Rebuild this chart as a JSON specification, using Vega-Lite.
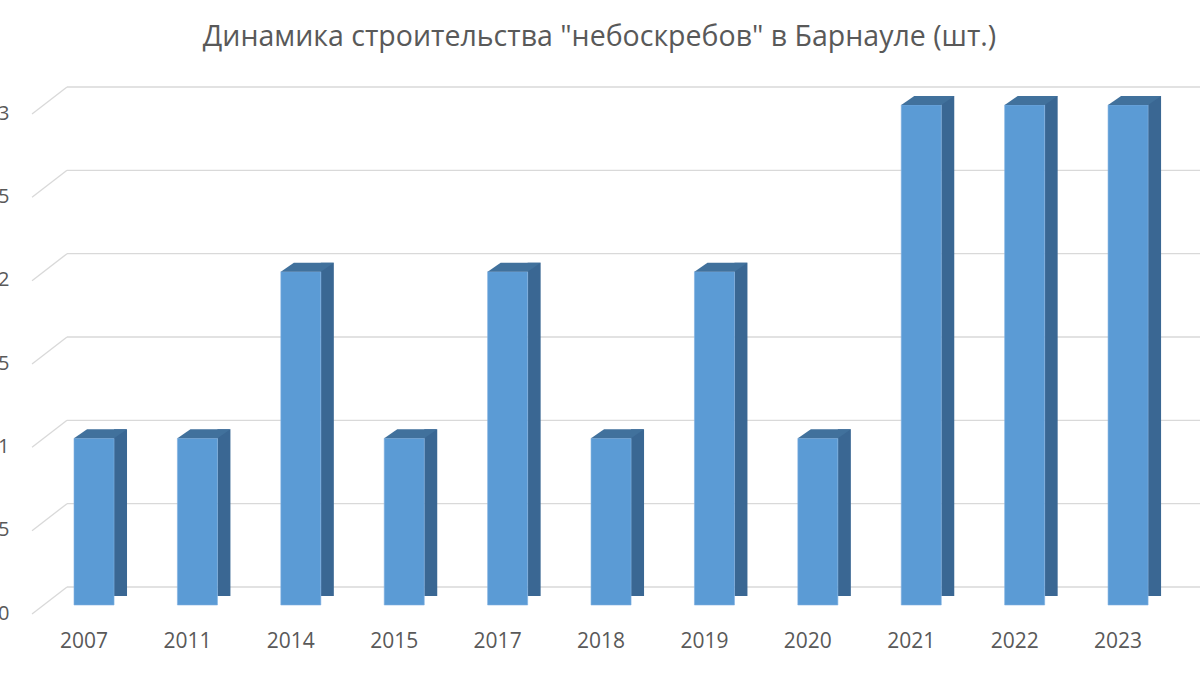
{
  "$schema": "https://vega.github.io/schema/vega-lite/v6.json",
  "autosize": {"type": "none"},
  "width": 1133,
  "height": 500,
  "padding": {"left": 67, "top": 105, "right": 0, "bottom": 70},
  "background": "white",
  "config": {"view": {"stroke": null}, "font": "Open Sans"},
  "title": {
    "text": "Динамика строительства \"небоскребов\" в Барнауле (шт.)",
    "fontSize": 28.5,
    "fontWeight": "normal",
    "color": "#595959",
    "font": "Open Sans",
    "anchor": "middle",
    "dx": -34,
    "offset": 33
  },
  "datasets": {
    "bars": [
      {"year": "2007", "count": 1},
      {"year": "2011", "count": 1},
      {"year": "2014", "count": 2},
      {"year": "2015", "count": 1},
      {"year": "2017", "count": 2},
      {"year": "2018", "count": 1},
      {"year": "2019", "count": 2},
      {"year": "2020", "count": 1},
      {"year": "2021", "count": 3},
      {"year": "2022", "count": 3},
      {"year": "2023", "count": 3}
    ],
    "grid": [
      {"v": 0}, {"v": 0.5}, {"v": 1}, {"v": 1.5}, {"v": 2}, {"v": 2.5}, {"v": 3}
    ]
  },
  "layer": [
    {
      "data": {"name": "grid"},
      "mark": {"type": "rule", "color": "#D9D9D9", "strokeWidth": 1.3, "yOffset": -18},
      "encoding": {
        "y": {"field": "v", "type": "quantitative", "scale": {"domain": [0, 3], "nice": false, "zero": true},
          "axis": {"title": null, "values": [0, 0.5, 1, 1.5, 2, 2.5, 3], "format": ".1~f", "domain": false, "ticks": false, "tickSize": 0, "grid": false,
            "labelExpr": "replace(datum.label, '.', ',')", "labelFontSize": 20, "labelColor": "#595959", "labelPadding": 58, "labelOffset": 8, "labelFont": "Open Sans"}}
      }
    },
    {
      "data": {"name": "grid"},
      "mark": {"type": "point", "shape": "M -1 0.771 L 1 -0.771", "size": 1225, "filled": false, "stroke": "#D9D9D9", "strokeWidth": 1.3, "opacity": 1, "xOffset": -44.5, "yOffset": -4.5},
      "encoding": {
        "x": {"datum": "2007", "type": "nominal"},
        "y": {"field": "v", "type": "quantitative"}
      }
    },
    {
      "data": {"name": "bars"},
      "mark": {"type": "bar", "color": "#3A6793", "width": 13, "xOffset": 26.5, "yOffset": -9, "y2Offset": -4.5},
      "encoding": {
        "x": {"field": "year", "type": "nominal"},
        "y": {"field": "count", "type": "quantitative"}
      }
    },
    {
      "data": {"name": "bars"},
      "mark": {"type": "bar", "color": "#5B9BD5", "stroke": "#7FB0E0", "strokeWidth": 0.6},
      "encoding": {
        "x": {"field": "year", "type": "nominal", "sort": null,
          "scale": {"paddingInner": 0.613, "paddingOuter": 0.285, "align": 0.119, "round": false},
          "axis": {"title": null, "domain": false, "ticks": false, "tickSize": 0, "labelAngle": 0, "labelFontSize": 21, "labelColor": "#595959", "labelPadding": 36, "labelOffset": 14, "labelFont": "Open Sans"}},
        "y": {"field": "count", "type": "quantitative"}
      }
    },
    {
      "data": {"name": "bars"},
      "mark": {"type": "point", "shape": "M -1 0.17 L 0.509 0.17 L 1 -0.17 L -0.509 -0.17 Z", "size": 2809, "filled": true, "fill": "#41719C", "opacity": 1, "strokeWidth": 0, "xOffset": 6.5, "yOffset": -4.5},
      "encoding": {
        "x": {"field": "year", "type": "nominal"},
        "y": {"field": "count", "type": "quantitative"}
      }
    }
  ]
}
